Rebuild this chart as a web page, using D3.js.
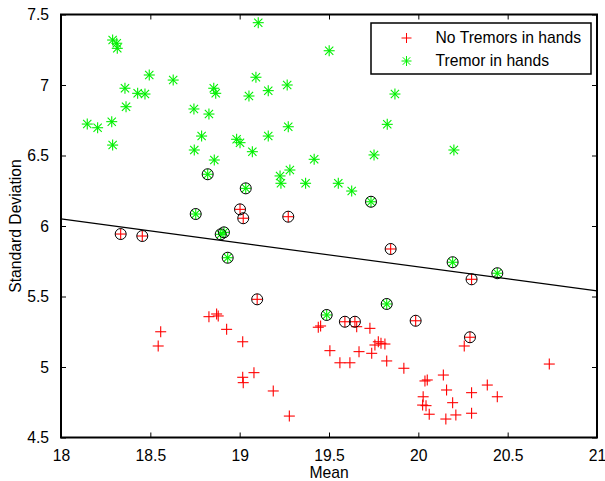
<!DOCTYPE html>
<html>
<head>
<meta charset="utf-8">
<script src="https://cdn.jsdelivr.net/npm/d3@7"></script>
<style>
  body { margin: 0; background: #fff; }
  svg text { font-family: "Liberation Sans", Arial, Helvetica, sans-serif; fill: #000; }
</style>
</head>
<body>
<div id="chart"></div>
<script>
'use strict';

// No tremors (red +)
const noTremorMean = [18.334, 18.455, 19.098, 19.020, 19.272, 19.002, 19.845, 20.298, 19.589, 19.645, 19.985, 20.289,
  18.558, 18.544, 18.828, 18.871, 18.880, 18.927, 19.017, 19.080, 19.017, 19.020, 19.188, 19.278, 19.440, 19.453,
  19.505, 19.655, 19.729, 19.776, 19.791, 19.757, 19.813, 19.668, 19.739, 19.561, 19.617, 19.823, 19.919, 20.257,
  20.733, 20.050, 20.037, 20.140, 20.158, 20.027, 20.298, 20.386, 20.442, 20.024, 20.043, 20.192, 20.061, 20.154,
  20.210, 20.298];
const noTremorStd = [5.943, 5.929, 5.480, 6.055, 6.066, 6.118, 5.837, 5.622, 5.321, 5.321, 5.328, 5.211,
  5.250, 5.149, 5.357, 5.376, 5.362, 5.267, 5.179, 4.960, 4.927, 4.889, 4.830, 4.652, 5.282, 5.291,
  5.116, 5.286, 5.274, 5.179, 5.168, 5.156, 5.163, 5.109, 5.097, 5.030, 5.030, 5.043, 4.991, 5.149,
  5.021, 4.908, 4.901, 4.943, 4.837, 4.789, 4.818, 4.872, 4.789, 4.730, 4.726, 4.747, 4.665, 4.631,
  4.660, 4.672];

// Tremor in hands (green *)
const tremorMean = [19.104, 18.289, 18.312, 18.315, 19.501, 18.494, 18.628, 18.358, 18.429, 18.470, 18.364, 18.147,
  18.205, 18.284, 18.289, 18.855, 18.866, 18.744, 18.828, 18.787, 18.746, 18.983, 19.002, 18.858, 19.071, 19.052,
  19.091, 19.160, 19.266, 19.160, 19.272, 19.417, 19.281, 19.226, 19.231, 19.369, 19.869, 19.826, 19.752, 20.199,
  19.552, 19.627, 18.821, 19.034, 18.754, 18.894, 18.912, 18.933, 19.487, 19.735, 20.192, 20.442, 19.823];
const tremorStd = [7.442, 7.319, 7.296, 7.260, 7.243, 7.071, 7.035, 6.977, 6.941, 6.936, 6.846, 6.723,
  6.697, 6.740, 6.574, 6.977, 6.941, 6.830, 6.794, 6.638, 6.539, 6.615, 6.591, 6.468, 6.527, 6.922,
  7.055, 6.960, 7.000, 6.638, 6.704, 6.473, 6.397, 6.355, 6.303, 6.303, 6.936, 6.721, 6.504, 6.539,
  6.303, 6.248, 6.367, 6.267, 6.085, 5.941, 5.955, 5.775, 5.369, 6.172, 5.743, 5.665, 5.447];

// circled points (support vectors)
const circledMean = [18.334, 18.455, 19.098, 19.020, 19.272, 19.002, 19.845, 20.298, 19.589, 19.645, 19.985, 20.289,
  18.821, 19.034, 18.754, 18.894, 18.912, 18.933, 19.487, 19.735, 20.192, 20.442, 19.823];
const circledStd = [5.943, 5.929, 5.480, 6.055, 6.066, 6.118, 5.837, 5.622, 5.321, 5.321, 5.328, 5.211,
  6.367, 6.267, 6.085, 5.941, 5.955, 5.775, 5.369, 6.172, 5.743, 5.665, 5.447];

// separating line
const lineMean = [18, 21];
const lineStd = [6.05, 5.54];

const xTicks = [18, 18.5, 19, 19.5, 20, 20.5, 21];
const yTicks = [4.5, 5, 5.5, 6, 6.5, 7, 7.5];
const seriesNames = ['No Tremors in hands', 'Tremor in hands'];

const W = 605, H = 481;
const margin = {top: 14.5, right: 8, bottom: 43.5, left: 61};
const width = W - margin.left - margin.right;
const height = H - margin.top - margin.bottom;

const svg = d3.select('#chart').append('svg')
    .attr('width', W)
    .attr('height', H);
const g = svg.append('g')
    .attr('transform', `translate(${margin.left},${margin.top})`);

const x = d3.scaleLinear().domain([18, 21]).range([0, width]);
const y = d3.scaleLinear().domain([4.5, 7.5]).range([height, 0]);

const red = '#ff0000', green = '#00f000';
const fs = '15.7px';

// axes (ticks inward, box on)
const tl = 5;
g.append('g').attr('transform', `translate(0,${height})`)
    .call(d3.axisBottom(x).tickValues(xTicks).tickSize(-tl).tickPadding(tl + 7).tickFormat(d3.format('')))
    .call(a => a.select('.domain').remove());
g.append('g')
    .call(d3.axisTop(x).tickValues(xTicks).tickSize(-tl).tickFormat(''))
    .call(a => a.select('.domain').remove());
g.append('g')
    .call(d3.axisLeft(y).tickValues(yTicks).tickSize(-tl).tickPadding(tl + 7).tickFormat(d3.format('')))
    .call(a => a.select('.domain').remove());
g.append('g').attr('transform', `translate(${width},0)`)
    .call(d3.axisRight(y).tickValues(yTicks).tickSize(-tl).tickFormat(''))
    .call(a => a.select('.domain').remove());
g.selectAll('.tick text').style('font-size', fs).style('font-family', '"Liberation Sans", Arial, sans-serif');
g.selectAll('.tick line').attr('stroke', '#000');

// markers
const plus = (sel, px, py, s, c) => {
  sel.append('line').attr('x1', px - s).attr('x2', px + s).attr('y1', py).attr('y2', py).attr('stroke', c);
  sel.append('line').attr('x1', px).attr('x2', px).attr('y1', py - s).attr('y2', py + s).attr('stroke', c);
};
const star = (sel, px, py, s, c) => {
  plus(sel, px, py, s, c);
  const d = s * 0.75;
  sel.append('line').attr('x1', px - d).attr('x2', px + d).attr('y1', py - d).attr('y2', py + d).attr('stroke', c);
  sel.append('line').attr('x1', px - d).attr('x2', px + d).attr('y1', py + d).attr('y2', py - d).attr('stroke', c);
};

const pts = g.append('g').attr('stroke-width', 1.1);
noTremorMean.forEach((m, i) => plus(pts, x(m), y(noTremorStd[i]), 5.5, red));
tremorMean.forEach((m, i) => star(pts, x(m), y(tremorStd[i]), 5.5, green));

g.append('g').selectAll('circle')
  .data(circledMean)
  .join('circle')
    .attr('cx', d => x(d))
    .attr('cy', (d, i) => y(circledStd[i]))
    .attr('r', 5.5)
    .attr('fill', 'none')
    .attr('stroke', '#000')
    .attr('stroke-width', 1);

g.append('line')
    .attr('x1', x(lineMean[0])).attr('y1', y(lineStd[0]))
    .attr('x2', x(lineMean[1])).attr('y2', y(lineStd[1]))
    .attr('stroke', '#000')
    .attr('stroke-width', 1.2);

// frame
g.append('rect')
    .attr('width', width).attr('height', height)
    .attr('fill', 'none').attr('stroke', '#000').attr('stroke-width', 2);

// legend
const lg = svg.append('g');
lg.append('rect')
    .attr('x', 371).attr('y', 23).attr('width', 220).attr('height', 51)
    .attr('fill', '#fff').attr('stroke', '#000').attr('stroke-width', 1.5);
plus(lg, 406.5, 38, 5, red);
star(lg, 406.5, 61, 5, green);
seriesNames.forEach((n, i) => {
  lg.append('text')
      .attr('x', 435.5).attr('y', i ? 61 : 38)
      .attr('dy', '0.35em')
      .style('font-size', fs)
      .text(n);
});

// axis titles
svg.append('text')
    .attr('x', margin.left + width / 2).attr('y', 478)
    .attr('text-anchor', 'middle')
    .style('font-size', fs)
    .text('Mean');
svg.append('text')
    .attr('transform', `translate(21,${margin.top + height / 2}) rotate(-90)`)
    .attr('text-anchor', 'middle')
    .style('font-size', fs)
    .text('Standard Deviation');
</script>
</body>
</html>
